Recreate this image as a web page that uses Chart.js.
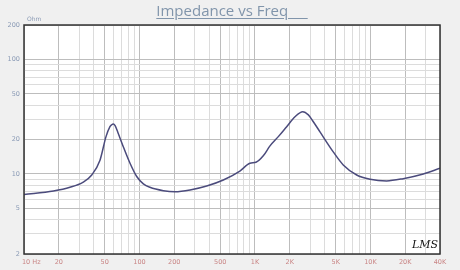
<!DOCTYPE html>
<html>
<head>
<meta charset="utf-8">
<script src="https://cdn.jsdelivr.net/npm/chart.js@4.4.1/dist/chart.umd.min.js"></script>
<style>
  html, body { margin: 0; padding: 0; background: #f0f0f0; }
  #wrap { position: relative; width: 460px; height: 270px; }
  #title {
    position: absolute; left: 2px; top: 0px; width: 460px; text-align: center;
    font-family: "Open Sans", sans-serif; font-size: 15px; color: #8195ab;
    text-decoration: underline; text-underline-offset: 2px; white-space: pre;
  }
</style>
</head>
<body>
<div id="wrap">
  <canvas id="chart" width="460" height="270"></canvas>
  <div id="title">Impedance vs Freq     </div>
</div>
<script>
// Impedance curve (Hz, Ohm)
const freq = [10, 18, 25, 32.6, 38.6, 45.5, 51.3, 55.5, 57.5, 59.3, 61.5, 65.5, 72.4, 82.8, 94.6, 108, 123, 161, 203, 274, 382, 532, 740, 905, 1020, 1180, 1349, 1600, 1882, 2220, 2590, 2900, 3200, 3655, 4760, 5810, 7600, 9910, 13800, 19200, 28700, 40000];
const impedance = [6.6, 7.1, 7.65, 8.5, 9.8, 13.2, 21.2, 25.9, 26.9, 27.3, 26.4, 22.6, 17.3, 12.4, 9.5, 8.2, 7.65, 7.15, 7.0, 7.25, 7.85, 8.85, 10.6, 12.4, 12.65, 14.4, 17.6, 21.3, 25.9, 31.6, 35.0, 32.8, 28.6, 23.3, 15.6, 12.0, 9.8, 9.0, 8.7, 9.1, 10.0, 11.2];

// tick labels
const xLabelValues = [10, 20, 50, 100, 200, 500, 1000, 2000, 5000, 10000, 20000, 40000];
const xLabels = ["       10 Hz", "20", "50", "100", "200", "500", "1K", "2K", "5K", "10K", "20K", "40K"];
const yLabelValues = [2, 5, 10, 20, 50, 100, 200];
const yLabels = ["2", "5", "10", "20", "50", "100", "200"];

// grid positions: 1..9 per decade
function logGrid(min, max) {
  const out = [];
  for (let d = Math.pow(10, Math.floor(Math.log10(min))); d <= max; d *= 10) {
    for (let m = 1; m <= 9; m++) {
      const v = Math.round(m * d * 1000) / 1000;
      if (v >= min && v <= max) out.push(v);
    }
  }
  if (out[out.length - 1] !== max) out.push(max);
  return out;
}

const xGrid = logGrid(10, 40000);
const yGrid = logGrid(2, 200);

const frame = {
  id: "frame",
  beforeDraw(chart) {
    const { ctx, chartArea: a } = chart;
    ctx.save();
    ctx.fillStyle = "#ffffff";
    ctx.fillRect(a.left, a.top, a.right - a.left, a.bottom - a.top);
    ctx.restore();
  },
  afterDraw(chart) {
    const { ctx, chartArea: a } = chart;
    ctx.save();
    ctx.strokeStyle = "#333333";
    ctx.lineWidth = 1.5;
    ctx.strokeRect(a.left, a.top, a.right - a.left, a.bottom - a.top);
    ctx.fillStyle = "#8a9ab5";
    ctx.font = "6px 'DejaVu Sans'";
    ctx.fillText("Ohm", a.left + 3, a.top - 4);
    ctx.fillStyle = "#111111";
    ctx.font = "italic 11px 'DejaVu Serif'";
    ctx.fillText("LMS", a.right - 28, a.bottom - 6);
    ctx.restore();
  }
};

new Chart(document.getElementById("chart"), {
  type: "scatter",
  data: {
    datasets: [{
      data: freq.map((f, i) => ({ x: f, y: impedance[i] })),
      showLine: true,
      borderColor: "#4b4b7c",
      borderWidth: 1.5,
      pointRadius: 0,
      cubicInterpolationMode: "monotone",
      fill: false
    }]
  },
  options: {
    responsive: false,
    animation: false,
    layout: { padding: { top: 25, right: 20, left: 0, bottom: 0 } },
    plugins: { legend: { display: false }, tooltip: { enabled: false } },
    scales: {
      x: {
        type: "logarithmic",
        min: 10,
        max: 40000,
        afterBuildTicks: (s) => { s.ticks = xGrid.map(v => ({ value: v })); },
        afterFit: (s) => { s.height = 16; },
        border: { display: false },
        grid: {
          color: (c) => xLabelValues.includes(c.tick && c.tick.value) ? "#bdbdbd" : "#dcdcdc",
          drawTicks: false
        },
        ticks: {
          autoSkip: false,
          maxRotation: 0,
          padding: 4,
          color: "#c98585",
          font: { family: "DejaVu Sans", size: 6.5 },
          callback: (v) => {
            const i = xLabelValues.indexOf(v);
            return i >= 0 ? xLabels[i] : "";
          }
        }
      },
      y: {
        type: "logarithmic",
        min: 2,
        max: 200,
        afterBuildTicks: (s) => { s.ticks = yGrid.map(v => ({ value: v })); },
        afterFit: (s) => { s.width = 24; },
        border: { display: false },
        grid: {
          color: (c) => yLabelValues.includes(c.tick && c.tick.value) ? "#bdbdbd" : "#dcdcdc",
          drawTicks: false
        },
        ticks: {
          autoSkip: false,
          padding: 4,
          color: "#8a9ab5",
          font: { family: "DejaVu Sans", size: 6.5 },
          callback: (v) => {
            const i = yLabelValues.indexOf(v);
            return i >= 0 ? yLabels[i] : "";
          }
        }
      }
    }
  },
  plugins: [frame]
});
</script>
</body>
</html>
